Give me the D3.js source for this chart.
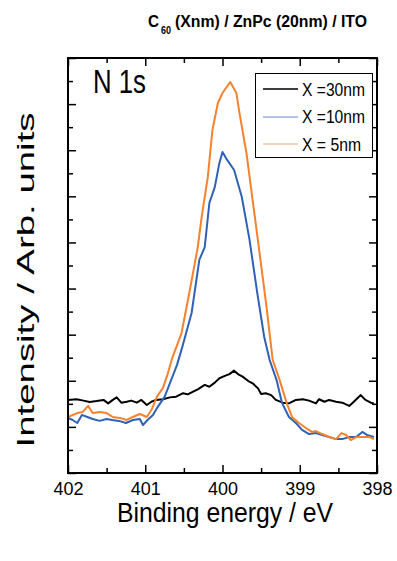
<!DOCTYPE html>
<html>
<head>
<meta charset="utf-8">
<script src="https://cdn.jsdelivr.net/npm/d3@7"></script>
<style>
html,body{margin:0;padding:0;background:#fff;}
svg{display:block;font-family:"Liberation Sans",Arial,sans-serif;}
</style>
</head>
<body>
<svg id="chart" width="397" height="561"></svg>
<script>
// ---- data ----
const seriesNames = ["X =30nm", "X =10nm", "X = 5nm"];
const seriesColors = ["#000000", "#2f62b5", "#f5822f"];
const legendColors = ["#000000", "#98b0d8", "#f8c3a0"];

const energy30 = [402.00,401.89,401.80,401.72,401.63,401.54,401.48,401.42,401.37,401.31,401.24,401.18,401.11,401.05,400.98,400.92,400.86,400.77,400.68,400.60,400.51,400.45,400.38,400.32,400.23,400.17,400.10,400.04,399.97,399.91,399.85,399.80,399.74,399.67,399.61,399.54,399.50,399.44,399.37,399.31,399.22,399.14,399.05,398.96,398.88,398.79,398.75,398.68,398.62,398.53,398.45,398.36,398.30,398.21,398.15,398.08,398.04];
const intensity30 = [3.17,3.20,3.14,3.08,3.12,3.17,3.02,3.17,3.28,3.05,3.09,3.14,3.05,3.17,2.95,3.09,3.17,3.20,3.28,3.31,3.46,3.41,3.53,3.63,3.82,3.74,3.92,4.11,4.21,4.29,4.44,4.29,4.18,4.00,3.89,3.67,3.43,3.46,3.38,3.17,3.05,3.02,3.17,3.20,3.14,3.02,3.20,3.09,3.17,3.09,3.05,2.91,3.09,3.38,3.17,3.05,3.02];

const energy10 = [402.00,401.94,401.88,401.82,401.75,401.68,401.59,401.50,401.43,401.34,401.25,401.16,401.07,401.03,400.97,400.90,400.84,400.75,400.68,400.59,400.52,400.40,400.30,400.23,400.17,400.10,400.04,400.00,399.94,399.85,399.75,399.65,399.55,399.46,399.39,399.30,399.23,399.14,399.05,398.97,398.88,398.79,398.71,398.62,398.53,398.45,398.36,398.27,398.19,398.13,398.04];
const intensity10 = [2.39,2.30,2.17,2.52,2.43,2.34,2.26,2.34,2.30,2.26,2.17,2.30,2.34,2.08,2.30,2.52,2.86,3.30,3.90,4.68,5.47,6.94,9.24,9.80,11.71,12.40,13.45,13.92,13.58,13.14,11.97,10.11,7.81,5.90,4.90,4.03,3.04,2.43,2.17,1.87,1.69,1.73,1.65,1.56,1.47,1.47,1.56,1.56,1.78,1.65,1.56];

const energy5 = [402.00,401.88,401.81,401.74,401.68,401.59,401.50,401.42,401.33,401.24,401.16,401.07,400.98,400.92,400.85,400.77,400.71,400.65,400.53,400.43,400.32,400.27,400.19,400.13,400.06,400.00,399.90,399.82,399.78,399.69,399.61,399.52,399.43,399.35,399.26,399.17,399.10,399.01,398.92,398.84,398.79,398.71,398.62,398.53,398.46,398.40,398.34,398.27,398.19,398.10,398.04];
const intensity5 = [2.43,2.60,2.65,2.91,2.60,2.65,2.60,2.43,2.39,2.30,2.43,2.56,2.43,2.73,3.30,3.69,4.29,4.99,6.07,7.81,9.80,11.10,12.84,14.88,16.05,16.48,16.96,16.48,15.61,13.88,11.84,9.54,7.20,4.90,4.03,3.04,2.43,2.17,1.95,1.78,1.82,1.69,1.56,1.47,1.73,1.65,1.43,1.56,1.56,1.56,1.47];

const xMajorTicks = [402, 401, 400, 399, 398];
const xMinorTicks = [401.5, 400.5, 399.5, 398.5];
const yTicks = d3.range(0, 19, 1);

const titleMain = "C";
const titleSub = "60";
const titleRest = "(Xnm) / ZnPc (20nm) / ITO";
const xLabel = "Binding energy / eV";
const yLabel = "Intensity / Arb. units";
const peakLabel = "N 1s";

// ---- layout ----
const svg = d3.select("#chart");
const L = 68, R = 377, T = 58, B = 473;
const x = d3.scaleLinear().domain([402, 398]).range([L, R]);
const y = d3.scaleLinear().domain([0, 18]).range([B, T]);

const series = [
  {name: seriesNames[0], e: energy30, v: intensity30},
  {name: seriesNames[1], e: energy10, v: intensity10},
  {name: seriesNames[2], e: energy5, v: intensity5}
];

const line = d3.line().x(d => x(d[0])).y(d => y(d[1]));

const plot = svg.append("g");
series.forEach((s, i) => {
  const pts = s.e.map((e, k) => [e, s.v[k]]);
  plot.append("path").datum(pts)
    .attr("d", line)
    .attr("fill", "none")
    .attr("stroke", seriesColors[i])
    .attr("stroke-width", 2)
    .attr("stroke-linejoin", "round");
});

// axes (ticks inward)
function styleAxis(g) {
  g.select(".domain").remove();
  g.selectAll("line").attr("stroke", "#000").attr("stroke-width", 1.5);
}
function noText(g) { g.selectAll("text").remove(); }
svg.append("g").attr("transform", `translate(0,${B})`)
  .call(d3.axisBottom(x).tickValues(xMajorTicks).tickSize(-8).tickFormat(d3.format("d")))
  .call(styleAxis)
  .call(g => g.selectAll("text")
    .attr("y", 22).attr("dy", 0)
    .attr("font-size", 18)
    .attr("font-family", "Liberation Sans, Arial, sans-serif")
    .attr("fill", "#000")
    .attr("textLength", 30).attr("lengthAdjust", "spacingAndGlyphs"));
svg.append("g").attr("transform", `translate(0,${B})`)
  .call(d3.axisBottom(x).tickValues(xMinorTicks).tickSize(-5)).call(styleAxis).call(noText);
svg.append("g").attr("transform", `translate(0,${T})`)
  .call(d3.axisTop(x).tickValues(xMajorTicks).tickSize(-8)).call(styleAxis).call(noText);
svg.append("g").attr("transform", `translate(0,${T})`)
  .call(d3.axisTop(x).tickValues(xMinorTicks).tickSize(-5)).call(styleAxis).call(noText);
svg.append("g").attr("transform", `translate(${L},0)`)
  .call(d3.axisLeft(y).tickValues(yTicks.filter(d => d % 2 === 0)).tickSize(-8)).call(styleAxis).call(noText);
svg.append("g").attr("transform", `translate(${L},0)`)
  .call(d3.axisLeft(y).tickValues(yTicks.filter(d => d % 2 === 1)).tickSize(-5)).call(styleAxis).call(noText);
svg.append("g").attr("transform", `translate(${R},0)`)
  .call(d3.axisRight(y).tickValues(yTicks.filter(d => d % 2 === 0)).tickSize(-8)).call(styleAxis).call(noText);
svg.append("g").attr("transform", `translate(${R},0)`)
  .call(d3.axisRight(y).tickValues(yTicks.filter(d => d % 2 === 1)).tickSize(-5)).call(styleAxis).call(noText);

// frame
svg.append("rect").attr("x", L).attr("y", T).attr("width", R - L).attr("height", B - T)
  .attr("fill", "none").attr("stroke", "#000").attr("stroke-width", 2);

// title
const tg = svg.append("g").attr("font-weight", "bold").attr("fill", "#000");
tg.append("text").attr("x", 148).attr("y", 27).attr("font-size", 16)
  .attr("textLength", 11).attr("lengthAdjust", "spacingAndGlyphs").text(titleMain);
tg.append("text").attr("x", 161).attr("y", 34).attr("font-size", 10)
  .attr("textLength", 10).attr("lengthAdjust", "spacingAndGlyphs").text(titleSub);
tg.append("text").attr("x", 175).attr("y", 27).attr("font-size", 16)
  .attr("textLength", 192).attr("lengthAdjust", "spacingAndGlyphs").text(titleRest);

// peak label
svg.append("text").attr("x", 93).attr("y", 93).attr("font-size", 34)
  .attr("textLength", 53).attr("lengthAdjust", "spacingAndGlyphs").text(peakLabel);

// axis titles
svg.append("text").attr("x", 117).attr("y", 522).attr("font-size", 27)
  .attr("textLength", 216).attr("lengthAdjust", "spacingAndGlyphs").text(xLabel);
svg.append("text").attr("transform", "translate(34,280) rotate(-90)")
  .attr("text-anchor", "middle").attr("font-size", 24)
  .attr("textLength", 335).attr("lengthAdjust", "spacingAndGlyphs").text(yLabel);

// legend
const lg = svg.append("g");
lg.append("rect").attr("x", 255.5).attr("y", 73.5).attr("width", 117).attr("height", 84)
  .attr("fill", "#fff").attr("stroke", "#000").attr("stroke-width", 1);
const legY = [89, 117, 144];
const legText = [96, 123, 151];
const legW = [63, 63, 59];
seriesNames.forEach((n, i) => {
  lg.append("line").attr("x1", 263).attr("x2", 298).attr("y1", legY[i]).attr("y2", legY[i])
    .attr("stroke", legendColors[i]).attr("stroke-width", 1.3);
  lg.append("text").attr("x", 302).attr("y", legText[i]).attr("font-size", 18)
    .attr("textLength", legW[i]).attr("lengthAdjust", "spacingAndGlyphs").text(n);
});
</script>
</body>
</html>
